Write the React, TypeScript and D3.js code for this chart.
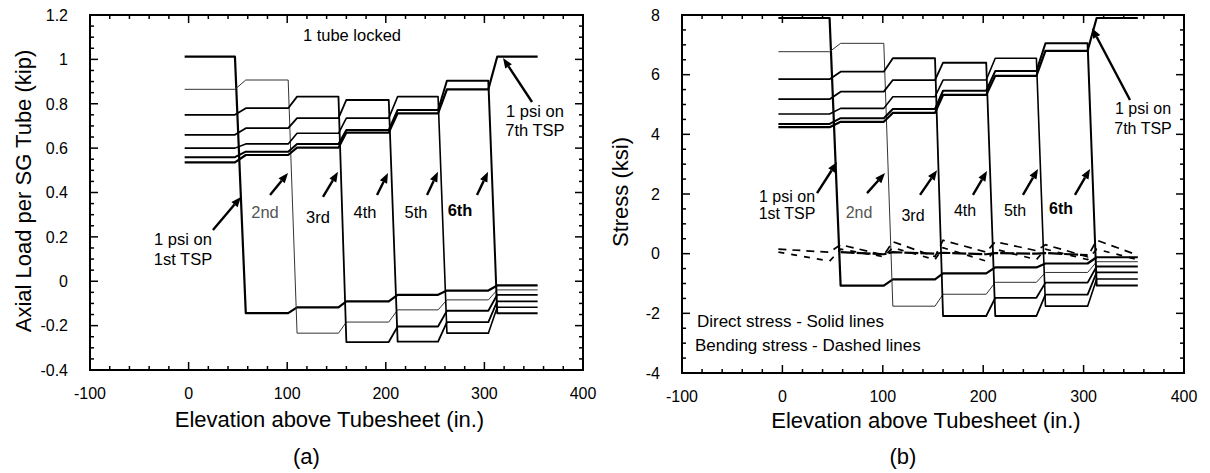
import React from "react";
import * as d3 from "d3";

// ---- data ----
const SEG_START = [-4, 58, 110, 160, 212, 262, 313];
const SEG_END = [47, 101, 152, 203, 253, 304, 354];

// (a) axial load per tube (kip), one array per load case (1 psi on k-th TSP), value per span
const LOAD_1 = [1.012, -0.144, -0.118, -0.091, -0.061, -0.042, -0.019];
const LOAD_2 = [0.865, 0.907, -0.234, -0.184, -0.129, -0.084, -0.039];
const LOAD_3 = [0.75, 0.78, 0.832, -0.274, -0.204, -0.133, -0.061];
const LOAD_4 = [0.66, 0.69, 0.735, 0.817, -0.272, -0.184, -0.091];
const LOAD_5 = [0.6, 0.619, 0.667, 0.735, 0.832, -0.234, -0.117];
const LOAD_6 = [0.559, 0.584, 0.619, 0.682, 0.772, 0.904, -0.144];
const LOAD_7 = [0.536, 0.569, 0.602, 0.67, 0.757, 0.865, 1.012];

// (b) direct stress (ksi)
const STRESS_1 = [7.9, -1.07, -0.86, -0.66, -0.46, -0.33, -0.12];
const STRESS_2 = [6.77, 7.05, -1.76, -1.36, -0.96, -0.63, -0.27];
const STRESS_3 = [5.85, 6.1, 6.55, -2.09, -1.48, -0.97, -0.43];
const STRESS_4 = [5.18, 5.43, 5.82, 6.4, -2.09, -1.37, -0.63];
const STRESS_5 = [4.68, 4.87, 5.26, 5.82, 6.55, -1.76, -0.85];
const STRESS_6 = [4.35, 4.54, 4.85, 5.46, 6.12, 7.05, -1.07];
const STRESS_7 = [4.24, 4.42, 4.72, 5.32, 5.96, 6.8, 7.9];

// (b) bending stress (ksi): [start, end] per span
const BEND_A = [[0.15, 0.05], [0.3, -0.05], [0.4, -0.1], [0.45, 0.05], [0.4, 0.1], [0.3, -0.1], [0.45, -0.05]];
const BEND_B = [[0.05, -0.25], [0.15, -0.1], [0.2, -0.2], [0.2, -0.25], [0.15, -0.2], [0.15, -0.2], [0.15, -0.2]];
const BEND_C = [null, [0.05, -0.02], [0.05, 0.0], [0.03, -0.02], [0.02, 0.0], [0.02, -0.05], null];

const X_TICKS = [-100, 0, 100, 200, 300, 400];
const YA_TICKS = [-0.4, -0.2, 0, 0.2, 0.4, 0.6, 0.8, 1, 1.2];
const YB_TICKS = [-4, -2, 0, 2, 4, 6, 8];

const LOADS = [LOAD_1, LOAD_2, LOAD_3, LOAD_4, LOAD_5, LOAD_6, LOAD_7];
const STRESSES = [STRESS_1, STRESS_2, STRESS_3, STRESS_4, STRESS_5, STRESS_6, STRESS_7];
const WIDTHS = [2.2, 1, 1.8, 1.8, 1.6, 2, 2.2];

// annotations (data coordinates)
const A_LABELS = [
  { t: "1 tube locked", x: 165.7, y: 1.11 },
  { t: "2nd", x: 77.5, y: 0.312, gray: true },
  { t: "3rd", x: 131.2, y: 0.29 },
  { t: "4th", x: 178.9, y: 0.312 },
  { t: "5th", x: 230.6, y: 0.312 },
  { t: "6th", x: 275.3, y: 0.321, bold: true },
  { t: "1 psi on", x: -5.7, y: 0.19 },
  { t: "1st TSP", x: -5.7, y: 0.1 },
  { t: "1 psi on", x: 351.3, y: 0.765 },
  { t: "7th TSP", x: 351.3, y: 0.68 },
];
const A_ARROWS = [
  [24.7, 0.231, 53.1, 0.38],
  [82.6, 0.389, 100.8, 0.488],
  [136.3, 0.38, 151.5, 0.493],
  [191.1, 0.389, 202.2, 0.488],
  [241.8, 0.389, 252.9, 0.493],
  [292.5, 0.389, 303.7, 0.493],
  [348.3, 0.808, 318.9, 1.006],
];
const B_LABELS = [
  { t: "1 psi on", x: 4.6, y: 1.93 },
  { t: "1st TSP", x: 4.6, y: 1.36 },
  { t: "2nd", x: 76.3, y: 1.4, gray: true },
  { t: "3rd", x: 130.1, y: 1.3 },
  { t: "4th", x: 181.9, y: 1.46 },
  { t: "5th", x: 231.7, y: 1.46 },
  { t: "6th", x: 277.5, y: 1.53, bold: true },
  { t: "1 psi on", x: 359.2, y: 4.86 },
  { t: "7th TSP", x: 359.2, y: 4.2 },
];
const B_NOTES = [
  { t: "Direct stress - Solid lines", x: -85.1, y: -2.26 },
  { t: "Bending stress - Dashed lines", x: -87.1, y: -3.06 },
];
const B_ARROWS = [
  [34.5, 2.03, 54.4, 3.07],
  [84.3, 2.03, 102.2, 2.7],
  [137.1, 1.97, 154, 2.8],
  [189.8, 1.97, 203.8, 2.77],
  [239.6, 1.97, 254.6, 2.84],
  [291.4, 1.97, 306.4, 2.84],
  [346.2, 5.15, 308.4, 7.56],
];

const FONT = "'Liberation Sans', Arial, Helvetica, sans-serif";

function stepPoints(vals: number[]) {
  const pts: [number, number][] = [];
  vals.forEach((v, s) => {
    pts.push([SEG_START[s], v]);
    pts.push([SEG_END[s], v]);
  });
  return pts;
}
function pairPoints(pairs: any[]) {
  const pts: [number, number][] = [];
  pairs.forEach((p, s) => {
    if (!p) return;
    pts.push([SEG_START[s], p[0]]);
    pts.push([SEG_END[s], p[1]]);
  });
  return pts;
}

function Arrow({ x1, y1, x2, y2 }: any) {
  const dx = x2 - x1, dy = y2 - y1;
  const L = Math.hypot(dx, dy);
  const ux = dx / L, uy = dy / L;
  const hl = 10, hw = 4;
  const bx = x2 - ux * hl, by = y2 - uy * hl;
  const head = `M${x2},${y2}L${bx - uy * hw},${by + ux * hw}L${bx + uy * hw},${by - ux * hw}Z`;
  return (
    <g>
      <line x1={x1} y1={y1} x2={bx} y2={by} stroke="#000" strokeWidth={2.4} />
      <path d={head} fill="#000" />
    </g>
  );
}

function Panel({ left, right, top, bottom, yDomain, yTicks, yMinor, yLabel, letter, series, bends, labels, arrows, notes, xTickY, titleY, letterY, yTickGap, labelSize }: any) {
  const x = d3.scaleLinear().domain([-100, 400]).range([left, right]);
  const y = d3.scaleLinear().domain(yDomain).range([bottom, top]);
  const line = d3.line<[number, number]>().x((d) => x(d[0])).y((d) => y(d[1]));
  const xMinor = d3.range(-100, 400.01, 20);
  const yMin = d3.range(yDomain[0], yDomain[1] + 1e-9, yMinor);
  const isMajorX = (v: number) => Math.abs(v / 100 - Math.round(v / 100)) < 1e-6;
  const isMajorY = (v: number) => yTicks.some((t: number) => Math.abs(t - v) < 1e-6);
  return (
    <g fontFamily={FONT}>
      {series.map((vals: number[], i: number) => (
        <path key={"s" + i} d={line(stepPoints(vals)) || ""} fill="none" stroke={i === 1 ? "#333" : "#000"} strokeWidth={WIDTHS[i]} strokeLinejoin="round" />
      ))}
      {bends &&
        bends.map((b: any, i: number) => (
          <path key={"b" + i} d={line(pairPoints(b.pairs)) || ""} fill="none" stroke="#000" strokeWidth={b.w} strokeDasharray={b.dash} />
        ))}
      <rect x={left} y={top} width={right - left} height={bottom - top} fill="none" stroke="#000" strokeWidth={2} />
      {xMinor.map((v: number) => {
        const len = isMajorX(v) ? 8 : 4;
        return (
          <g key={"xt" + v}>
            <line x1={x(v)} x2={x(v)} y1={bottom} y2={bottom - len} stroke="#000" strokeWidth={1.5} />
            <line x1={x(v)} x2={x(v)} y1={top} y2={top + len} stroke="#000" strokeWidth={1.5} />
          </g>
        );
      })}
      {yMin.map((v: number) => {
        const len = isMajorY(v) ? 8 : 4;
        return (
          <g key={"yt" + v}>
            <line x1={left} x2={left + len} y1={y(v)} y2={y(v)} stroke="#000" strokeWidth={1.5} />
            <line x1={right} x2={right - len} y1={y(v)} y2={y(v)} stroke="#000" strokeWidth={1.5} />
          </g>
        );
      })}
      {X_TICKS.map((v) => (
        <text key={"xl" + v} x={x(v)} y={xTickY} textAnchor="middle" fontSize={16}>
          {String(v)}
        </text>
      ))}
      {yTicks.map((v: number) => (
        <text key={"yl" + v} x={left - yTickGap} y={y(v)} dy="0.36em" textAnchor="end" fontSize={16}>
          {String(v)}
        </text>
      ))}
      <text x={(left + right) / 2 - 7} y={titleY} textAnchor="middle" fontSize={22}>
        Elevation above Tubesheet (in.)
      </text>
      <text x={(left + right) / 2 - 30} y={letterY} textAnchor="middle" fontSize={22}>
        {letter}
      </text>
      <text transform={`translate(${yLabel.x},${yLabel.y}) rotate(-90)`} textAnchor="middle" fontSize={22}>
        {yLabel.t}
      </text>
      {labels.map((l: any, i: number) => (
        <text key={"al" + i} x={x(l.x)} y={y(l.y)} dy="0.36em" textAnchor="middle" fontSize={labelSize} fill={l.gray ? "#555" : "#000"} fontWeight={l.bold ? "bold" : "normal"}>
          {l.t}
        </text>
      ))}
      {notes &&
        notes.map((l: any, i: number) => (
          <text key={"n" + i} x={x(l.x)} y={y(l.y)} dy="0.36em" textAnchor="start" fontSize={17}>
            {l.t}
          </text>
        ))}
      {arrows.map((a: number[], i: number) => (
        <Arrow key={"ar" + i} x1={x(a[0])} y1={y(a[1])} x2={x(a[2])} y2={y(a[3])} />
      ))}
    </g>
  );
}

export default function App() {
  const bends = [
    { pairs: BEND_A, w: 1.7, dash: "8,6" },
    { pairs: BEND_B, w: 1.7, dash: "6,7" },
    { pairs: BEND_C, w: 2.2, dash: "14,2" },
  ];
  return (
    <svg width={1210} height={473} style={{ position: "absolute", left: 0, top: 0, background: "#fff" }}>
      <rect x={0} y={0} width={1210} height={473} fill="#fff" />
      <Panel
        left={90}
        right={583}
        top={15}
        bottom={370}
        yDomain={[-0.4, 1.2]}
        yTicks={YA_TICKS}
        yMinor={0.05}
        yLabel={{ t: "Axial Load per SG Tube (kip)", x: 31, y: 191 }}
        letter="(a)"
        series={LOADS}
        labels={A_LABELS}
        arrows={A_ARROWS}
        xTickY={399}
        titleY={427}
        letterY={464}
        yTickGap={22}
        labelSize={16.5}
      />
      <Panel
        left={682}
        right={1184}
        top={15}
        bottom={373}
        yDomain={[-4, 8]}
        yTicks={YB_TICKS}
        yMinor={0.5}
        yLabel={{ t: "Stress (ksi)", x: 628, y: 192 }}
        letter="(b)"
        series={STRESSES}
        bends={bends}
        labels={B_LABELS}
        arrows={B_ARROWS}
        notes={B_NOTES}
        xTickY={402}
        titleY={428}
        letterY={464}
        yTickGap={22}
        labelSize={16}
      />
    </svg>
  );
}
